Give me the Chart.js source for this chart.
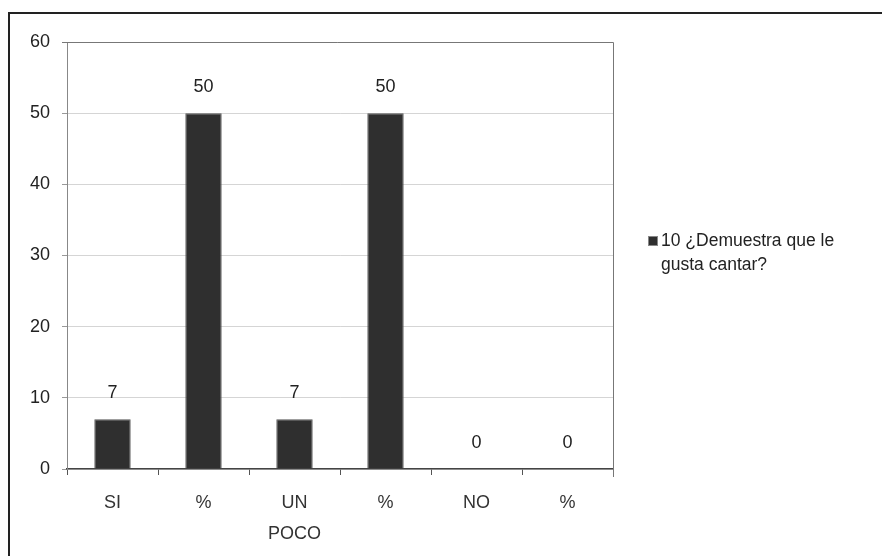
<!DOCTYPE html>
<html>
<head>
<meta charset="utf-8">
<script src="https://cdn.jsdelivr.net/npm/chart.js@4"></script>
<style>
  html, body { margin: 0; padding: 0; background: #fff; overflow: hidden; }
  #marco { position: absolute; left: 8px; top: 12px; width: 900px; height: 600px;
           border-left: 2px solid #222; border-top: 2px solid #222; }
  #grafico { position: absolute; left: 0; top: 0; }
</style>
</head>
<body>
<div id="marco"></div>
<canvas id="grafico" width="882" height="556"></canvas>

<script>
const categorias = ['SI', '%', ['UN', 'POCO'], '%', 'NO', '%'];
const valores = [7, 50, 7, 50, 0, 0];
const serie = '10 ¿Demuestra que le gusta cantar?';
const lineasLeyenda = ['10 ¿Demuestra que le', 'gusta cantar?'];
const marcasY = [0, 10, 20, 30, 40, 50, 60];

const fuente = '"Liberation Sans", Arial, sans-serif';
const colorBarra = '#2f2f2f';

// etiquetas de valor, borde del area y leyenda
const extras = {
  id: 'extras',
  afterDatasetsDraw(chart) {
    const { ctx, chartArea } = chart;
    ctx.save();
    // borde superior y derecho del area
    ctx.strokeStyle = '#777';
    ctx.lineWidth = 1;
    ctx.beginPath();
    ctx.moveTo(chartArea.left - 5, chartArea.top + 0.5);
    ctx.lineTo(chartArea.right + 0.5, chartArea.top + 0.5);
    ctx.lineTo(chartArea.right + 0.5, chartArea.bottom + 8);
    ctx.stroke();

    ctx.font = '18px ' + fuente;
    ctx.fillStyle = '#222';
    ctx.textAlign = 'center';
    ctx.textBaseline = 'middle';
    chart.getDatasetMeta(0).data.forEach((bar, i) => {
      ctx.fillText(String(valores[i]), bar.x, bar.y - 26);
    });

    // leyenda
    ctx.fillStyle = colorBarra;
    ctx.fillRect(648, 236, 10, 10);
    ctx.strokeStyle = '#888';
    ctx.strokeRect(648.5, 236.5, 9, 9);
    ctx.fillStyle = '#222';
    ctx.textAlign = 'left';
    ctx.font = '17.5px ' + fuente;
    lineasLeyenda.forEach((t, i) => ctx.fillText(t, 661, 241 + i * 24));
    ctx.restore();
  }
};

new Chart(document.getElementById('grafico').getContext('2d'), {
  type: 'bar',
  data: {
    labels: categorias,
    datasets: [{
      label: serie,
      data: valores,
      backgroundColor: colorBarra,
      borderColor: '#555',
      borderWidth: 1,
      categoryPercentage: 1,
      barPercentage: 0.4
    }]
  },
  options: {
    responsive: false,
    animation: false,
    layout: { padding: { left: 0, top: 42, right: 269, bottom: 0 } },
    plugins: {
      legend: { display: false },
      tooltip: { enabled: false }
    },
    scales: {
      x: {
        afterFit(s) { s.height = 87; },
        grid: {
          offset: true,
          drawOnChartArea: false,
          drawTicks: true,
          tickLength: 6,
          color: '#555'
        },
        border: { color: '#444', width: 1.5 },
        ticks: {
          color: '#333',
          font: { family: fuente, size: 18, lineHeight: 1.75 },
          padding: 12,
          maxRotation: 0
        }
      },
      y: {
        min: 0,
        max: 60,
        afterFit(s) { s.width = 67; },
        afterBuildTicks(s) { s.ticks = marcasY.map(v => ({ value: v })); },
        grid: {
          color: 'rgba(150,150,150,0.4)',
          tickLength: 5,
          tickColor: '#999'
        },
        border: { color: '#888', width: 1, dash: [] },
        ticks: {
          color: '#222',
          font: { family: fuente, size: 18 },
          padding: 12
        }
      }
    }
  },
  plugins: [extras]
});
</script>
</body>
</html>
